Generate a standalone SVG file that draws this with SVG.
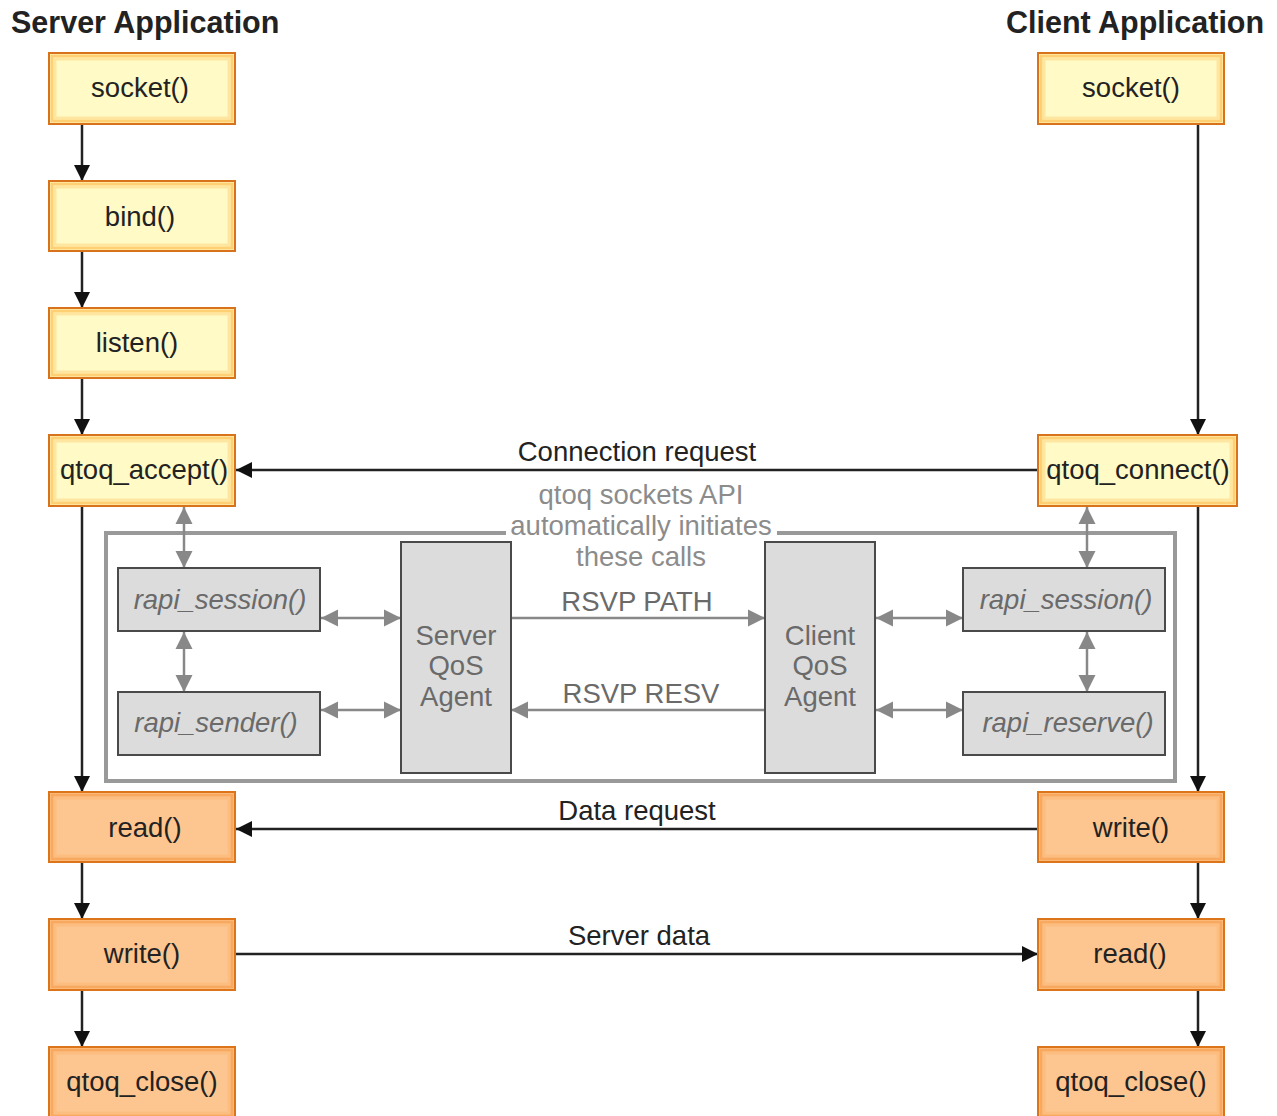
<svg xmlns="http://www.w3.org/2000/svg" width="1277" height="1116" viewBox="0 0 1277 1116">
<style>
text{font-family:"Liberation Sans",Arial,sans-serif;}
.title{font-size:30.5px;font-weight:bold;fill:#222;}
.lbl{font-size:27.5px;fill:#222;text-anchor:middle;}
.glbl{font-size:27.5px;fill:#6a6a6a;text-anchor:middle;}
.note{font-size:27.5px;fill:#8c8c8c;text-anchor:middle;}
.ital{font-size:27.5px;fill:#6a6a6a;text-anchor:middle;font-style:italic;}
.y0{fill:#FFFAC6;stroke:#D9731B;stroke-width:2;}
.y1{fill:none;stroke:#FFC45E;stroke-width:3;opacity:.8;}
.y2{fill:none;stroke:#FFE196;stroke-width:3;opacity:.8;}
.o0{fill:#FDC690;stroke:#DC741A;stroke-width:2;}
.o1{fill:none;stroke:#F8A152;stroke-width:3;opacity:.8;}
.o2{fill:none;stroke:#FBB776;stroke-width:3;opacity:.6;}
.g0{fill:#DCDCDC;stroke:#4a4a4a;stroke-width:2;}
.blk{stroke:#222;stroke-width:2.5;fill:none;}
.gry{stroke:#888;stroke-width:2.5;fill:none;}
.frame{stroke:#999;stroke-width:4;fill:none;}
</style>
<defs>
<marker id="ab" markerUnits="userSpaceOnUse" markerWidth="16" markerHeight="16" refX="16" refY="8" orient="auto"><path d="M0,0 L16,8 L0,16 z" fill="#111"/></marker>
<marker id="ag" markerUnits="userSpaceOnUse" markerWidth="18" markerHeight="18" refX="17" refY="9" orient="auto-start-reverse"><path d="M0,0.5 L17,9 L0,17.5 z" fill="#888"/></marker>
</defs>

<text class="title" x="11" y="33">Server Application</text>
<text class="title" x="1006" y="33">Client Application</text>

<!-- frame -->
<g id="frame">
<path class="frame" d="M506,533 H106 V781 H1175 V533 H777"/>
<text class="note" x="641" y="504">qtoq sockets API</text>
<text class="note" x="641" y="535">automatically initiates</text>
<text class="note" x="641" y="566">these calls</text>
</g>

<!-- connectors -->
<g id="connectors">
<line class="blk" x1="82" y1="124" x2="82" y2="181" marker-end="url(#ab)"/>
<line class="blk" x1="82" y1="251" x2="82" y2="308" marker-end="url(#ab)"/>
<line class="blk" x1="82" y1="378" x2="82" y2="435" marker-end="url(#ab)"/>
<line class="blk" x1="82" y1="506" x2="82" y2="792" marker-end="url(#ab)"/>
<line class="blk" x1="82" y1="862" x2="82" y2="919" marker-end="url(#ab)"/>
<line class="blk" x1="82" y1="990" x2="82" y2="1047" marker-end="url(#ab)"/>
<line class="blk" x1="1198" y1="124" x2="1198" y2="435" marker-end="url(#ab)"/>
<line class="blk" x1="1198" y1="506" x2="1198" y2="792" marker-end="url(#ab)"/>
<line class="blk" x1="1198" y1="862" x2="1198" y2="919" marker-end="url(#ab)"/>
<line class="blk" x1="1198" y1="990" x2="1198" y2="1047" marker-end="url(#ab)"/>
<line class="blk" x1="1038" y1="470" x2="236" y2="470" marker-end="url(#ab)"/>
<line class="blk" x1="1038" y1="829" x2="236" y2="829" marker-end="url(#ab)"/>
<line class="blk" x1="236" y1="954" x2="1038" y2="954" marker-end="url(#ab)"/>
<text class="lbl" x="637" y="461">Connection request</text>
<text class="lbl" x="637" y="820">Data request</text>
<text class="lbl" x="639" y="945">Server data</text>

<line class="gry" x1="184" y1="507" x2="184" y2="568" marker-start="url(#ag)" marker-end="url(#ag)"/>
<line class="gry" x1="184" y1="632" x2="184" y2="692" marker-start="url(#ag)" marker-end="url(#ag)"/>
<line class="gry" x1="321" y1="618" x2="401" y2="618" marker-start="url(#ag)" marker-end="url(#ag)"/>
<line class="gry" x1="321" y1="710" x2="401" y2="710" marker-start="url(#ag)" marker-end="url(#ag)"/>
<line class="gry" x1="511" y1="618" x2="765" y2="618" marker-end="url(#ag)"/>
<line class="gry" x1="765" y1="710" x2="511" y2="710" marker-end="url(#ag)"/>
<line class="gry" x1="876" y1="618" x2="963" y2="618" marker-start="url(#ag)" marker-end="url(#ag)"/>
<line class="gry" x1="876" y1="710" x2="963" y2="710" marker-start="url(#ag)" marker-end="url(#ag)"/>
<line class="gry" x1="1087" y1="507" x2="1087" y2="568" marker-start="url(#ag)" marker-end="url(#ag)"/>
<line class="gry" x1="1087" y1="632" x2="1087" y2="692" marker-start="url(#ag)" marker-end="url(#ag)"/>
<text class="glbl" x="637" y="611">RSVP PATH</text>
<text class="glbl" x="641" y="703">RSVP RESV</text>
</g>

<!-- server nodes -->
<g id="s_socket"><rect class="y0" x="49" y="53" width="186" height="71"/><rect class="y1" x="52" y="56" width="180" height="65"/><rect class="y2" x="55" y="59" width="174" height="59"/><text class="lbl" x="140" y="97">socket()</text></g>
<g id="s_bind"><rect class="y0" x="49" y="181" width="186" height="70"/><rect class="y1" x="52" y="184" width="180" height="64"/><rect class="y2" x="55" y="187" width="174" height="58"/><text class="lbl" x="140" y="226">bind()</text></g>
<g id="s_listen"><rect class="y0" x="49" y="308" width="186" height="70"/><rect class="y1" x="52" y="311" width="180" height="64"/><rect class="y2" x="55" y="314" width="174" height="58"/><text class="lbl" x="137" y="352">listen()</text></g>
<g id="s_accept"><rect class="y0" x="49" y="435" width="186" height="71"/><rect class="y1" x="52" y="438" width="180" height="65"/><rect class="y2" x="55" y="441" width="174" height="59"/><text class="lbl" x="144" y="479">qtoq_accept()</text></g>
<g id="s_read"><rect class="o0" x="49" y="792" width="186" height="70"/><rect class="o1" x="52" y="795" width="180" height="64"/><rect class="o2" x="55" y="798" width="174" height="58"/><text class="lbl" x="145" y="837">read()</text></g>
<g id="s_write"><rect class="o0" x="49" y="919" width="186" height="71"/><rect class="o1" x="52" y="922" width="180" height="65"/><rect class="o2" x="55" y="925" width="174" height="59"/><text class="lbl" x="142" y="963">write()</text></g>
<g id="s_close"><rect class="o0" x="49" y="1047" width="186" height="72"/><rect class="o1" x="52" y="1050" width="180" height="66"/><rect class="o2" x="55" y="1053" width="174" height="60"/><text class="lbl" x="142" y="1091">qtoq_close()</text></g>

<!-- client nodes -->
<g id="c_socket"><rect class="y0" x="1038" y="53" width="186" height="71"/><rect class="y1" x="1041" y="56" width="180" height="65"/><rect class="y2" x="1044" y="59" width="174" height="59"/><text class="lbl" x="1131" y="97">socket()</text></g>
<g id="c_connect"><rect class="y0" x="1038" y="435" width="199" height="71"/><rect class="y1" x="1041" y="438" width="193" height="65"/><rect class="y2" x="1044" y="441" width="187" height="59"/><text class="lbl" x="1138" y="479">qtoq_connect()</text></g>
<g id="c_write"><rect class="o0" x="1038" y="792" width="186" height="70"/><rect class="o1" x="1041" y="795" width="180" height="64"/><rect class="o2" x="1044" y="798" width="174" height="58"/><text class="lbl" x="1131" y="837">write()</text></g>
<g id="c_read"><rect class="o0" x="1038" y="919" width="186" height="71"/><rect class="o1" x="1041" y="922" width="180" height="65"/><rect class="o2" x="1044" y="925" width="174" height="59"/><text class="lbl" x="1130" y="963">read()</text></g>
<g id="c_close"><rect class="o0" x="1038" y="1047" width="186" height="72"/><rect class="o1" x="1041" y="1050" width="180" height="66"/><rect class="o2" x="1044" y="1053" width="174" height="60"/><text class="lbl" x="1131" y="1091">qtoq_close()</text></g>

<!-- QoS nodes -->
<g id="s_rapi_session"><rect class="g0" x="118" y="568" width="202" height="63"/><text class="ital" x="220" y="609">rapi_session()</text></g>
<g id="s_rapi_sender"><rect class="g0" x="118" y="692" width="202" height="63"/><text class="ital" x="216" y="732">rapi_sender()</text></g>
<g id="s_qos"><rect class="g0" x="401" y="542" width="110" height="231"/><text class="glbl" x="456" y="645">Server</text><text class="glbl" x="456" y="675">QoS</text><text class="glbl" x="456" y="706">Agent</text></g>
<g id="c_qos"><rect class="g0" x="765" y="542" width="110" height="231"/><text class="glbl" x="820" y="645">Client</text><text class="glbl" x="820" y="675">QoS</text><text class="glbl" x="820" y="706">Agent</text></g>
<g id="c_rapi_session"><rect class="g0" x="963" y="568" width="202" height="63"/><text class="ital" x="1066" y="609">rapi_session()</text></g>
<g id="c_rapi_reserve"><rect class="g0" x="963" y="692" width="202" height="63"/><text class="ital" x="1068" y="732">rapi_reserve()</text></g>
</svg>
